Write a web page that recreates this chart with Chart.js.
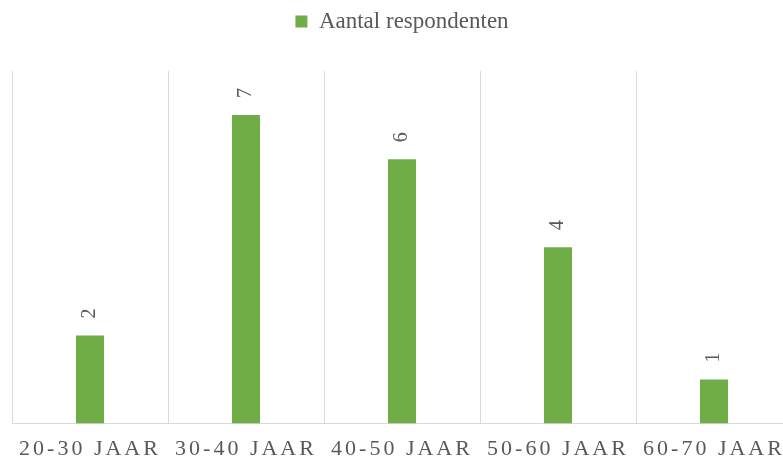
<!DOCTYPE html>
<html>
<head>
<meta charset="utf-8">
<script src="https://cdn.jsdelivr.net/npm/chart.js@4"></script>
<style>
  html, body { margin: 0; padding: 0; background: #ffffff; overflow: hidden; }
  #wrap { width: 792px; height: 474px; position: relative; }
</style>
</head>
<body>
<div id="wrap"><canvas id="c"></canvas></div>
<script>
const categories = ['20-30 JAAR', '30-40 JAAR', '40-50 JAAR', '50-60 JAAR', '60-70 JAAR'];
const seriesName = 'Aantal respondenten';
const respondents = [2, 7, 6, 4, 1];

const FONT = "'Liberation Serif', 'Times New Roman', serif";
const TEXT = '#595959';
const GREEN = '#70AD47';
const GRID = '#d9d9d9';

const layoutPlugin = {
  id: 'layoutTweaks',
  beforeLayout(chart) {
    const lg = chart.legend;
    if (lg && !lg._patched) {
      const f = lg.fit;
      lg.fit = function () { f.call(this); this.height = 71; };
      lg._patched = true;
    }
  },
  beforeDraw(chart) {
    const s = chart.scales.x;
    if (s && !s._lsPatched) {
      const orig = s.drawLabels;
      s.drawLabels = function (area) {
        const c = this.ctx;
        c.save();
        c.letterSpacing = '3px';
        orig.call(this, area);
        c.restore();
      };
      s._lsPatched = true;
    }
  }
};

const dataLabelPlugin = {
  id: 'rotatedLabels',
  afterDatasetsDraw(chart) {
    const ctx = chart.ctx;
    const meta = chart.getDatasetMeta(0);
    ctx.save();
    ctx.font = '20px ' + FONT;
    ctx.fillStyle = TEXT;
    ctx.textAlign = 'left';
    ctx.textBaseline = 'middle';
    meta.data.forEach((bar, i) => {
      ctx.save();
      ctx.translate(bar.x, bar.y - 17);
      ctx.rotate(-Math.PI / 2);
      ctx.fillText(String(chart.data.datasets[0].data[i]), 0, 0);
      ctx.restore();
    });
    ctx.restore();
  }
};

new Chart(document.getElementById('c'), {
  type: 'bar',
  data: {
    labels: categories,
    datasets: [{
      label: seriesName,
      data: respondents,
      backgroundColor: GREEN,
      borderWidth: 0,
      categoryPercentage: 1,
      barPercentage: 0.18
    }]
  },
  options: {
    responsive: true,
    maintainAspectRatio: false,
    animation: false,
    layout: { padding: { left: 12, right: 0, top: 0, bottom: 0 } },
    plugins: {
      legend: {
        display: true,
        position: 'top',
        labels: {
          color: TEXT,
          font: { family: FONT, size: 23 },
          boxWidth: 12,
          boxHeight: 12,
          padding: 10
        }
      },
      tooltip: { enabled: false }
    },
    scales: {
      x: {
        offset: true,
        grid: { display: true, offset: true, color: GRID, lineWidth: 1, drawTicks: false },
        border: { display: true, color: GRID, width: 1 },
        ticks: {
          color: TEXT,
          font: { family: FONT, size: 22 },
          padding: 12,
          maxRotation: 0,
          minRotation: 0,
          autoSkip: false
        }
      },
      y: {
        display: false,
        min: 0,
        max: 8
      }
    }
  },
  plugins: [layoutPlugin, dataLabelPlugin]
});
</script>
</body>
</html>
